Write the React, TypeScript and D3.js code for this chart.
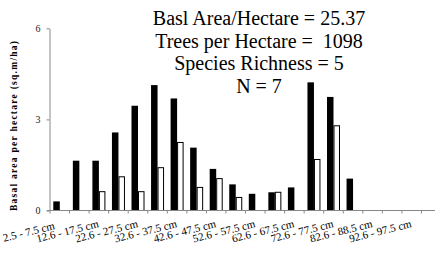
import React, { useEffect, useRef } from "react";
import * as d3 from "d3";

// diameter classes (every other one is labelled)
const classes = [
  "2.5 - 7.5 cm", "7.6 - 12.5 cm", "12.6 - 17.5 cm", "17.6 - 22.5 cm",
  "22.6 - 27.5 cm", "27.6 - 32.5 cm", "32.6 - 37.5 cm", "37.6 - 42.5 cm",
  "42.6 - 47.5 cm", "47.6 - 52.5 cm", "52.6 - 57.5 cm", "57.6 - 62.5 cm",
  "62.6 - 67.5 cm", "67.6 - 72.5 cm", "72.6 - 77.5 cm", "77.6 - 82.5 cm",
  "82.6 - 88.5 cm", "87.6 - 92.5 cm", "92.6 - 97.5 cm", "97.6 - 102.5 cm",
];
const blackValues = [0.3, 1.64, 1.64, 2.57, 3.45, 4.13, 3.69, 2.07, 1.37, 0.86, 0.55, 0.6, 0.76, 4.22, 3.74, 1.05, 0, 0, 0, 0];
const whiteValues = [0, 0, 0.62, 1.11, 0.62, 1.41, 2.24, 0.76, 1.05, 0.43, 0, 0.6, 0, 1.68, 2.79, 0, 0, 0, 0, 0];
const yTicks = [0, 3, 6];
const statLines = [
  "Basl Area/Hectare = 25.37",
  "Trees per Hectare =  1098",
  "Species Richness = 5",
  "N = 7",
];

const App = () => {
  const ref = useRef<SVGSVGElement>(null);

  useEffect(() => {
    const svg = d3.select(ref.current);
    svg.selectAll("*").remove();

    const font = "'Liberation Serif', 'Times New Roman', serif";
    const left = 50, right = 441, top = 28.3, bottom = 210.5;

    const x = d3.scaleBand().domain(classes).range([left, right]).padding(0);
    const sub = d3.scaleBand().domain(["b", "w"]).range([3.3, 16.3]).padding(0);
    const y = d3.scaleLinear().domain([0, 6]).range([bottom, top]);

    const rows = classes.map((c, i) => ({ c, b: blackValues[i], w: whiteValues[i] }));

    // black bars
    svg.append("g")
      .selectAll("rect")
      .data(rows.filter((d) => d.b > 0))
      .enter()
      .append("rect")
      .attr("x", (d) => x(d.c)! + sub("b")!)
      .attr("y", (d) => y(d.b))
      .attr("width", sub.bandwidth())
      .attr("height", (d) => y(0) - y(d.b))
      .attr("fill", "#000");

    // white bars
    svg.append("g")
      .selectAll("rect")
      .data(rows.filter((d) => d.w > 0))
      .enter()
      .append("rect")
      .attr("x", (d) => x(d.c)! + sub("w")! + 0.5)
      .attr("y", (d) => y(d.w))
      .attr("width", sub.bandwidth() - 1)
      .attr("height", (d) => y(0) - y(d.w))
      .attr("fill", "#fff")
      .attr("stroke", "#000")
      .attr("stroke-width", 1);

    // y axis
    const yAxis = svg.append("g")
      .attr("transform", `translate(${left - 0.5},0)`)
      .call(d3.axisLeft(y).tickValues(yTicks).tickFormat(d3.format("d")).tickSize(3).tickSizeOuter(0));
    yAxis.select(".domain").attr("stroke", "#888");
    yAxis.selectAll(".tick line").attr("stroke", "#888");
    yAxis.selectAll(".tick text")
      .attr("font-family", font)
      .attr("font-size", 10)
      .attr("fill", "#222")
      .attr("x", -9);

    // x axis
    const boundaries = d3.range(classes.length + 1).map((i) => left + i * x.step());
    const xAxis = svg.append("g");
    xAxis.append("line")
      .attr("x1", left - 3).attr("x2", right)
      .attr("y1", bottom).attr("y2", bottom)
      .attr("stroke", "#888");
    xAxis.selectAll(".tk")
      .data(boundaries)
      .enter()
      .append("line")
      .attr("x1", (d) => d).attr("x2", (d) => d)
      .attr("y1", bottom).attr("y2", bottom + 3)
      .attr("stroke", "#888");

    xAxis.selectAll(".lbl")
      .data(classes.filter((_, i) => i % 2 === 0))
      .enter()
      .append("text")
      .attr("transform", (d, i) => {
        const cx = x(d)! + x.bandwidth() / 2 + (i === 0 ? -4.5 : 0.5);
        const cy = i === 0 ? 229 : 227;
        return `translate(${cx},${cy}) rotate(-14)`;
      })
      .attr("text-anchor", "end")
      .attr("font-family", font)
      .attr("font-size", 11)
      .attr("fill", "#000")
      .text((d) => d);

    // y label
    svg.append("text")
      .attr("transform", `translate(16.5,126) rotate(-90)`)
      .attr("text-anchor", "middle")
      .attr("font-family", font)
      .attr("font-size", 9.5)
      .attr("font-weight", "bold")
      .attr("textLength", 170)
      .attr("lengthAdjust", "spacing")
      .text("Basal area per hectare (sq.m/ha)");

    // stats
    svg.append("g")
      .selectAll("text")
      .data(statLines)
      .enter()
      .append("text")
      .attr("x", 259)
      .attr("y", (_, i) => 25 + i * 22.7)
      .attr("text-anchor", "middle")
      .attr("font-family", font)
      .attr("font-size", 20)
      .style("white-space", "pre")
      .text((d) => d);
  }, []);

  return (
    <svg
      ref={ref}
      width={435}
      height={264}
      style={{ position: "absolute", left: 0, top: 0, background: "#fff" }}
    />
  );
};

export default App;
